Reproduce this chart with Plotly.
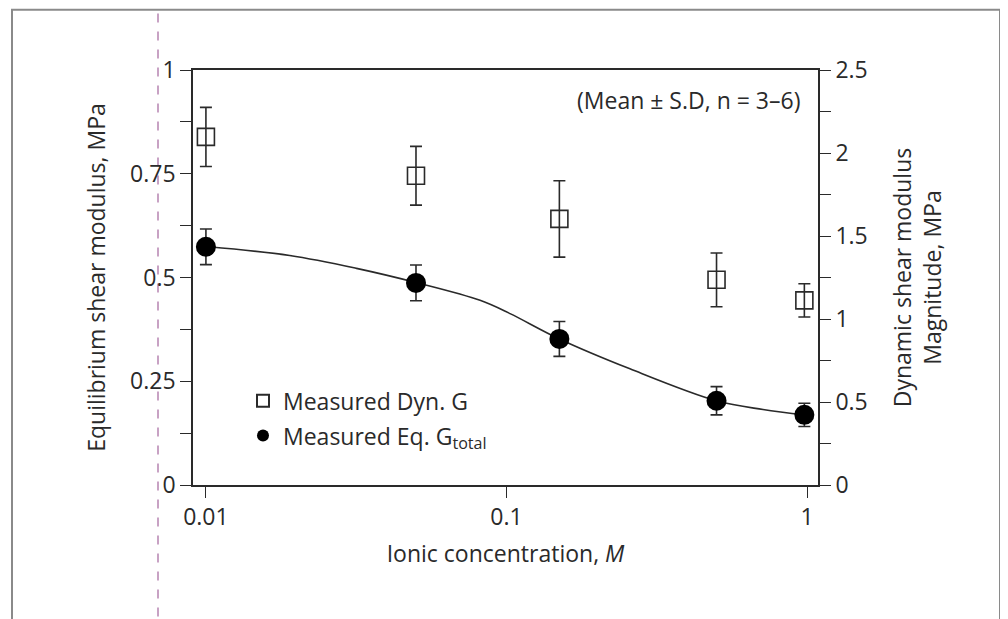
import plotly.graph_objects as go

# ---- data ----
conc = [0.01, 0.05, 0.15, 0.5, 0.98]
eq_g = [0.574, 0.487, 0.352, 0.203, 0.169]
eq_sd = [0.043, 0.043, 0.042, 0.034, 0.028]
dyn_g = [2.097, 1.863, 1.603, 1.236, 1.112]
dyn_sd = [0.178, 0.177, 0.23, 0.162, 0.10]

fit_x = [0.0102, 0.019, 0.0317, 0.0506, 0.0817, 0.1028, 0.15, 0.2576, 0.5, 0.714, 0.985]
fit_y = [0.574, 0.553, 0.522, 0.487, 0.445, 0.413, 0.352, 0.280, 0.203, 0.182, 0.169]

x_ticks = [0.01, 0.1, 1]
x_ticktext = ["0.01", "0.1", "1"]
y1_ticks = [0, 0.125, 0.25, 0.375, 0.5, 0.625, 0.75, 0.875, 1]
y1_ticktext = ["0", "", "0.25", "", "0.5", "", "0.75", "", "1"]
y2_ticks = [0, 0.25, 0.5, 0.75, 1, 1.25, 1.5, 1.75, 2, 2.25, 2.5]
y2_ticktext = ["0", "", "0.5", "", "1", "", "1.5", "", "2", "", "2.5"]

FONT = "Open Sans"
FS = 23
INK = "#2a2a2a"

fig = go.Figure()

fig.add_trace(go.Scatter(
    x=fit_x, y=fit_y, mode="lines", line=dict(color=INK, width=1.6, shape="spline"),
    showlegend=False, hoverinfo="skip"))

fig.add_trace(go.Scatter(
    x=conc, y=dyn_g, yaxis="y2", mode="markers", name="Measured Dyn. G",
    legendgroup="a",
    marker=dict(symbol="square-open", size=17, color=INK, line=dict(width=1.6)),
    error_y=dict(type="data", array=dyn_sd, color=INK, thickness=1.6, width=6)))

fig.add_trace(go.Scatter(
    x=conc, y=eq_g, mode="markers", name="Measured Eq. G<sub>total</sub>",
    legendgroup="b",
    marker=dict(symbol="circle", size=20, color="black"),
    error_y=dict(type="data", array=eq_sd, color=INK, thickness=1.6, width=6)))

axis_common = dict(
    showgrid=False, zeroline=False, showline=True, linecolor=INK, linewidth=1.6,
    ticks="outside", ticklen=11, tickwidth=1.4, tickcolor=INK,
    tickfont=dict(family=FONT, size=FS, color=INK))

fig.update_layout(
    width=1008, height=619,
    margin=dict(l=185, r=198, t=62, b=142),
    paper_bgcolor="white", plot_bgcolor="white",
    font=dict(family=FONT, size=FS, color=INK),
    xaxis=dict(type="log", range=[-2.043, 0.0366], tickvals=x_ticks, ticktext=x_ticktext,
               mirror=True, title=dict(text="Ionic concentration, <i>M</i>",
                                       font=dict(family=FONT, size=FS, color=INK), standoff=14),
               **axis_common),
    yaxis=dict(range=[0, 1], tickvals=y1_ticks, ticktext=y1_ticktext,
               title=dict(text="Equilibrium shear modulus, MPa",
                          font=dict(family=FONT, size=FS, color=INK), standoff=18),
               **axis_common),
    yaxis2=dict(range=[0, 2.5], tickvals=y2_ticks, ticktext=y2_ticktext, overlaying="y",
                side="right",
                title=dict(text="Dynamic shear modulus<br>Magnitude, MPa",
                           font=dict(family=FONT, size=FS, color=INK), standoff=28),
                **axis_common),
    legend=dict(x=0.08, y=0.255, xanchor="left", yanchor="top", bgcolor="rgba(0,0,0,0)",
                font=dict(family=FONT, size=FS, color=INK), tracegroupgap=2,
                itemsizing="constant"),
    annotations=[dict(text="(Mean ± S.D, n = 3–6)", xref="paper", yref="paper",
                      x=0.975, y=0.928, xanchor="right", yanchor="middle", showarrow=False,
                      font=dict(family=FONT, size=FS, color=INK))],
    shapes=[
        dict(type="rect", xref="paper", yref="paper", x0=-0.2896, x1=1.2912, y0=-0.36, y1=1.145,
             line=dict(color="#8a8a8a", width=2), layer="below"),
        dict(type="line", xref="paper", yref="paper", x0=-0.056, x1=-0.056, y0=-0.36, y1=1.145,
             line=dict(color="#c8a2c4", width=2, dash="dash"), layer="below"),
    ],
)

fig.write_html("out.html")
